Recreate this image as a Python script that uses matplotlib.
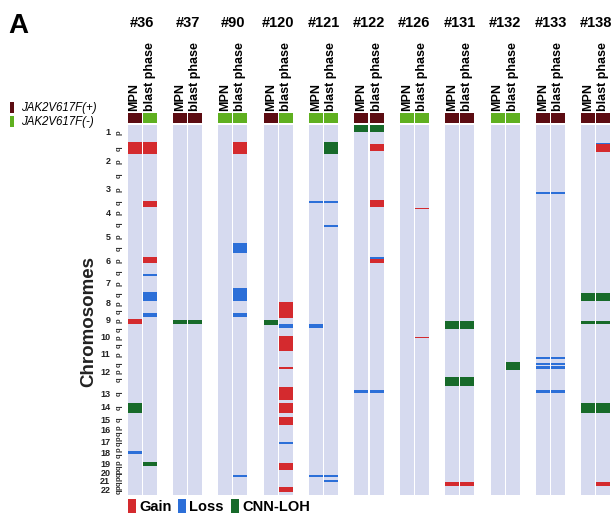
import matplotlib.pyplot as plt
from matplotlib.patches import Rectangle

# samples, JAK2V617F status of MPN / blast phase sample (1 = positive)
samples = ['#36', '#37', '#90', '#120', '#121', '#122', '#126', '#131', '#132', '#133', '#138']
jak2_mpn = [1, 1, 0, 1, 0, 1, 0, 1, 0, 1, 1]
jak2_blast = [0, 1, 0, 0, 0, 1, 0, 1, 0, 1, 1]

# relative display length of chromosomes 1..22 and centromere position (fraction)
chrom_sizes = [31, 28, 26, 24, 23, 23, 21, 17, 17, 16, 19, 16, 14, 13, 12, 12, 11, 12, 10, 7, 10, 8]
centromere = [0.50, 0.38, 0.46, 0.26, 0.27, 0.35, 0.38, 0.31, 0.35, 0.29, 0.39, 0.26,
              0.15, 0.16, 0.19, 0.40, 0.30, 0.22, 0.45, 0.44, 0.27, 0.29]

# events: (sample, phase 0=MPN 1=blast, chromosome, start fraction, end fraction)
gain_events = [
    ('#36', 0, 1, 0.55, 0.94), ('#36', 0, 9, 0.05, 0.35),
    ('#36', 1, 1, 0.55, 0.94), ('#36', 1, 3, 0.65, 0.89), ('#36', 1, 6, 0.0, 0.25),
    ('#90', 1, 1, 0.55, 0.94),
    ('#120', 1, 8, 0.06, 1.0), ('#120', 1, 10, 0.06, 1.0), ('#120', 1, 11, 0.84, 0.94),
    ('#120', 1, 13, 0.07, 1.0), ('#120', 1, 14, 0.23, 1.0), ('#120', 1, 15, 0.33, 1.0),
    ('#120', 1, 19, 0.3, 1.0), ('#120', 1, 22, 0.05, 0.65),
    ('#122', 1, 1, 0.6, 0.84), ('#122', 1, 3, 0.62, 0.88), ('#122', 1, 6, 0.08, 0.26),
    ('#126', 1, 3, 0.93, 0.98), ('#126', 1, 10, 0.12, 0.2),
    ('#131', 0, 21, 0.5, 0.9), ('#131', 1, 21, 0.5, 0.9),
    ('#138', 1, 1, 0.61, 0.87), ('#138', 1, 21, 0.5, 0.9),
]
loss_events = [
    ('#36', 0, 18, 0.25, 0.5),
    ('#36', 1, 6, 0.74, 0.83), ('#36', 1, 7, 0.57, 1.0), ('#36', 1, 8, 0.7, 0.94),
    ('#90', 1, 5, 0.39, 0.83), ('#90', 1, 7, 0.38, 1.0), ('#90', 1, 8, 0.7, 0.94),
    ('#90', 1, 20, 0.7, 1.0),
    ('#120', 1, 9, 0.35, 0.6), ('#120', 1, 17, 0.45, 0.64),
    ('#121', 0, 3, 0.65, 0.73), ('#121', 0, 9, 0.35, 0.6), ('#121', 0, 20, 0.7, 1.0),
    ('#121', 1, 3, 0.65, 0.73), ('#121', 1, 4, 0.62, 0.7), ('#121', 1, 20, 0.7, 1.0),
    ('#121', 1, 21, 0.3, 0.5),
    ('#122', 0, 13, 0.28, 0.5), ('#122', 1, 6, 0.0, 0.08), ('#122', 1, 13, 0.28, 0.5),
    ('#133', 0, 3, 0.3, 0.38), ('#133', 0, 11, 0.32, 0.42), ('#133', 0, 11, 0.63, 0.74),
    ('#133', 0, 11, 0.79, 0.95), ('#133', 0, 13, 0.28, 0.5),
    ('#133', 1, 3, 0.3, 0.38), ('#133', 1, 11, 0.32, 0.42), ('#133', 1, 11, 0.63, 0.74),
    ('#133', 1, 11, 0.79, 0.95), ('#133', 1, 13, 0.28, 0.5),
    ('#138', 1, 1, 0.58, 0.62),
]
loh_events = [
    ('#36', 0, 14, 0.23, 1.0), ('#36', 1, 19, 0.2, 0.6),
    ('#37', 0, 9, 0.12, 0.35), ('#37', 1, 9, 0.12, 0.35),
    ('#120', 0, 9, 0.12, 0.4),
    ('#121', 1, 1, 0.55, 0.94),
    ('#122', 0, 1, 0.0, 0.22), ('#122', 1, 1, 0.0, 0.22),
    ('#131', 0, 9, 0.18, 0.65), ('#131', 1, 9, 0.18, 0.65),
    ('#131', 0, 12, 0.44, 1.0), ('#131', 1, 12, 0.44, 1.0),
    ('#132', 1, 11, 0.58, 1.0),
    ('#138', 0, 7, 0.62, 1.0), ('#138', 0, 9, 0.18, 0.35), ('#138', 0, 14, 0.23, 1.0),
    ('#138', 1, 7, 0.62, 1.0), ('#138', 1, 9, 0.18, 0.35), ('#138', 1, 14, 0.23, 1.0),
]

GAIN = '#d42a2e'
LOSS = '#2c6fd8'
LOH = '#176a2a'
POS = '#5c0c12'
NEG = '#5fb020'
BG = '#d6daef'

plt.rcParams['font.family'] = ['Liberation Sans', 'DejaVu Sans']

chrom_start = [0]
for s in chrom_sizes[:-1]:
    chrom_start.append(chrom_start[-1] + s)
genome_len = sum(chrom_sizes)


def col_x(sample, phase):
    return 3 * samples.index(sample) + phase + 0.04


def draw_events(ax, events, color):
    xs, bottoms, heights = [], [], []
    for sample, phase, chrom, f0, f1 in events:
        L = chrom_sizes[chrom - 1]
        xs.append(col_x(sample, phase))
        bottoms.append(chrom_start[chrom - 1] + f0 * L)
        heights.append((f1 - f0) * L)
    ax.bar(xs, heights, 0.92, bottom=bottoms, align='edge', color=color, linewidth=0)


fig = plt.figure(figsize=(6.12, 5.18), dpi=100)
ax = fig.add_axes([127 / 612, 23 / 518, 484 / 612, 382 / 518])
ax.set_xlim(0, 32)
ax.set_ylim(genome_len, -12)
ax.axis('off')

n = len(samples)
body_x = [3 * i + j + 0.04 for i in range(n) for j in range(2)]
ax.bar(body_x, [genome_len] * len(body_x), 0.92, bottom=0, align='edge', color=BG, linewidth=0)

head_colors = []
for i in range(n):
    head_colors.append(POS if jak2_mpn[i] else NEG)
    head_colors.append(POS if jak2_blast[i] else NEG)
ax.bar(body_x, [10] * len(body_x), 0.92, bottom=-12, align='edge', color=head_colors, linewidth=0)

draw_events(ax, gain_events, GAIN)
draw_events(ax, loss_events, LOSS)
draw_events(ax, loh_events, LOH)

for i, s in enumerate(samples):
    ax.text(3 * i + 1, -102, s, ha='center', va='center', fontsize=10.5, fontweight='bold')
    ax.text(3 * i + 0.5, -14, 'MPN', rotation=90, ha='center', va='bottom',
            fontsize=9, fontweight='bold')
    ax.text(3 * i + 1.5, -14, 'blast phase', rotation=90, ha='center', va='bottom',
            fontsize=9, fontweight='bold')

# chromosome labels with p / q arms
for c in range(22):
    s0, L, cen = chrom_start[c], chrom_sizes[c], centromere[c]
    yp = s0 + cen * L / 2
    yq = s0 + cen * L + (1 - cen) * L / 2
    acro = c + 1 in (13, 14, 15)
    if acro:
        ynum = yq
    elif c + 1 >= 16:
        ynum = s0 + L / 2
    else:
        ynum = yp
    ax.text(-1.1, ynum, str(c + 1), ha='right', va='center', fontsize=6.5, fontweight='bold',
            color='#222222')
    if not acro:
        ax.text(-0.5, yp, 'p', rotation=90, ha='center', va='center', fontsize=5.5,
                fontweight='bold', color='#333333')
    ax.text(-0.5, yq, 'q', rotation=90, ha='center', va='center', fontsize=5.5,
            fontweight='bold', color='#333333')

ax.text(-2.5, 197, 'Chromosomes', rotation=90, ha='center', va='center',
        fontsize=13.5, fontweight='bold', color='#222222')

# panel letter and legends
fig.text(8 / 612, 1 - 26 / 518, 'A', fontsize=20, fontweight='bold', va='center')


def fig_rect(x, y, w, h, color):
    fig.add_artist(Rectangle((x / 612, 1 - (y + h) / 518), w / 612, h / 518,
                             transform=fig.transFigure, color=color, linewidth=0))


fig_rect(10, 102, 4, 11, POS)
fig.text(21 / 612, 1 - 108 / 518, 'JAK2V617F(+)', fontsize=8.3, style='italic', va='center')
fig_rect(10, 116, 4, 11, NEG)
fig.text(21 / 612, 1 - 122 / 518, 'JAK2V617F(-)', fontsize=8.3, style='italic', va='center')

for x0, color, label in [(128, GAIN, 'Gain'), (178, LOSS, 'Loss'), (231, LOH, 'CNN-LOH')]:
    fig_rect(x0, 499, 8, 14, color)
    fig.text((x0 + 11) / 612, 1 - 507 / 518, label, fontsize=10.5, fontweight='bold', va='center')

plt.savefig('out.png', dpi=100)
